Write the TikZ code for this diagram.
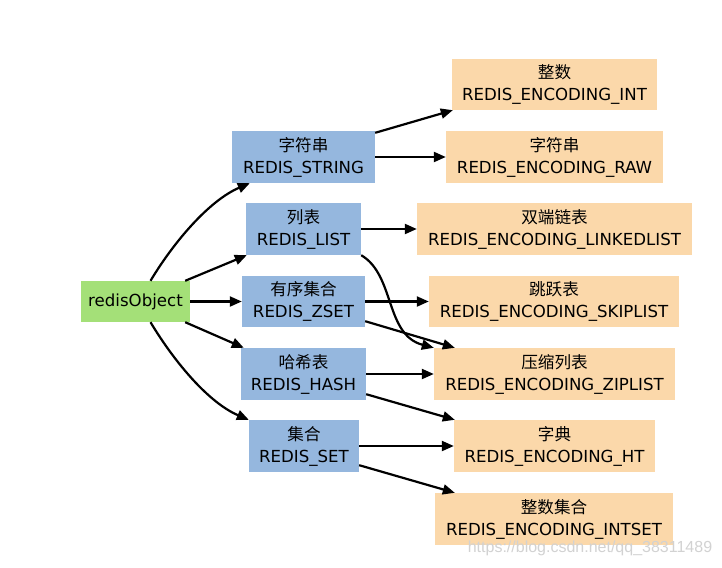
\documentclass[tikz,border=0pt]{standalone}
\usepackage{fontspec}
\setmainfont{DejaVu Sans}
\newfontfamily\cjk{Noto Sans CJK SC}
\newfontfamily\wmfont{Liberation Sans}
\usetikzlibrary{arrows.meta}
\definecolor{bluebox}{RGB}{149,183,222}
\definecolor{orangebox}{RGB}{251,216,170}
\definecolor{greenbox}{RGB}{164,224,120}
\tikzset{
  box/.style={inner sep=0pt, align=center, font=\fontsize{16.6}{22}\selectfont},
  typebox/.style={box, fill=bluebox},
  encbox/.style={box, fill=orangebox},
  objbox/.style={box, fill=greenbox},
  conn/.style={line width=2.2pt, -{Triangle[length=12pt,width=10pt]}},
}
\begin{document}
\begin{tikzpicture}[x=1pt,y=-1pt]
\useasboundingbox[fill=white] (0,0) rectangle (722,567);

\node[objbox, minimum width=109pt, minimum height=41pt] (obj) at (135.5,301.5) {redisObject};

\node[typebox, minimum width=143pt, minimum height=52pt] (str) at (303.5,157) {{\cjk 字符串}\\REDIS\_STRING};
\node[typebox, minimum width=115pt, minimum height=52pt] (lst) at (303.5,229) {{\cjk 列表}\\REDIS\_LIST};
\node[typebox, minimum width=123pt, minimum height=51pt] (zst) at (303.5,301.5) {{\cjk 有序集合}\\REDIS\_ZSET};
\node[typebox, minimum width=125pt, minimum height=52pt] (hsh) at (303.5,374) {{\cjk 哈希表}\\REDIS\_HASH};
\node[typebox, minimum width=110pt, minimum height=52pt] (set) at (304,446) {{\cjk 集合}\\REDIS\_SET};

\node[encbox, minimum width=205pt, minimum height=51pt] (int) at (554.5,84.5) {{\cjk 整数}\\REDIS\_ENCODING\_INT};
\node[encbox, minimum width=217pt, minimum height=52pt] (raw) at (554.5,157) {{\cjk 字符串}\\REDIS\_ENCODING\_RAW};
\node[encbox, minimum width=275pt, minimum height=52pt] (lnk) at (554.5,229) {{\cjk 双端链表}\\REDIS\_ENCODING\_LINKEDLIST};
\node[encbox, minimum width=250pt, minimum height=51pt] (skp) at (554,301.5) {{\cjk 跳跃表}\\REDIS\_ENCODING\_SKIPLIST};
\node[encbox, minimum width=241pt, minimum height=52pt] (zip) at (554.5,374) {{\cjk 压缩列表}\\REDIS\_ENCODING\_ZIPLIST};
\node[encbox, minimum width=201pt, minimum height=52pt] (ht) at (554.5,446) {{\cjk 字典}\\REDIS\_ENCODING\_HT};
\node[encbox, minimum width=238pt, minimum height=52pt] (ints) at (554,519) {{\cjk 整数集合}\\REDIS\_ENCODING\_INTSET};

\node[font=\wmfont\fontsize{16}{18}\selectfont, text=gray!35, inner sep=0pt] (wm) at (590,548) {https://blog.csdn.net/qq\_38311489};

% redisObject -> types
\draw[conn] ([xshift=15pt]obj.north) .. controls +(24,-40) and +(-40,17) .. ([xshift=18pt]str.south west);
\draw[conn] ([xshift=-5pt]obj.north east) -- ([xshift=1pt]lst.south west);
\draw[conn] (obj.east) -- (zst.west);
\draw[conn] ([xshift=-5pt]obj.south east) -- ([xshift=3pt]hsh.north west);
\draw[conn] ([xshift=15pt]obj.south) .. controls +(24,40) and +(-40,-17) .. ([xshift=0pt]set.north west);

% types -> encodings
\draw[conn] ([yshift=-2pt]str.north east) -- ([xshift=1pt]int.south west);
\draw[conn] (str.east) -- (raw.west);
\draw[conn] (lst.east) -- (lnk.west);
\draw[conn] (lst.south east) .. controls +(34,20) and +(-49,-13) .. (zip.north west);
\draw[conn] (zst.east) -- (skp.west);
\draw[conn] ([yshift=6pt]zst.south east) -- ([xshift=21pt]zip.north west);
\draw[conn] (hsh.east) -- (zip.west);
\draw[conn] ([yshift=6pt]hsh.south east) -- ([xshift=1pt]ht.north west);
\draw[conn] (set.east) -- (ht.west);
\draw[conn] ([yshift=7pt]set.south east) -- ([xshift=20pt]ints.north west);
\end{tikzpicture}
\end{document}
